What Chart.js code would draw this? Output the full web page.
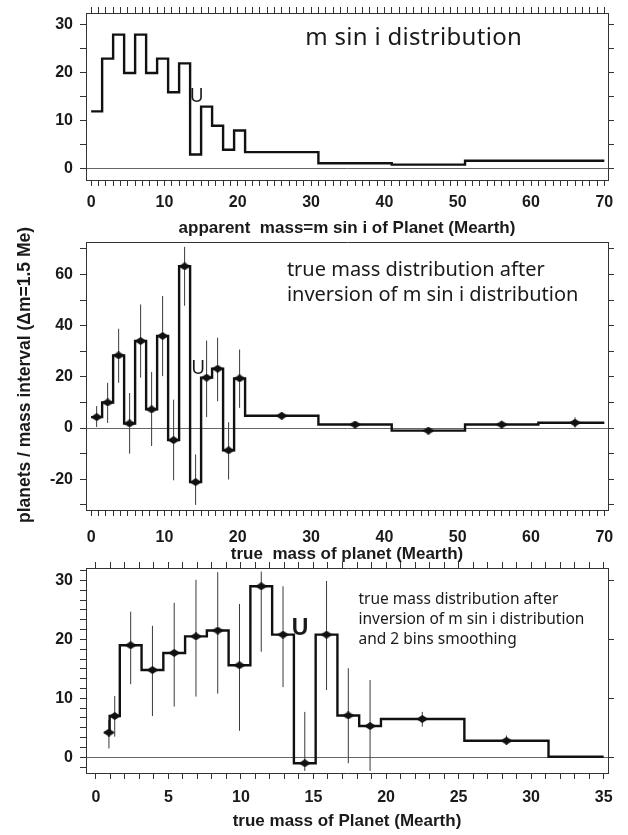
<!DOCTYPE html>
<html>
<head>
<meta charset="utf-8">
<script src="https://cdn.jsdelivr.net/npm/chart.js@4.4.1/dist/chart.umd.min.js"></script>
<style>
html, body { margin: 0; padding: 0; background: #fff; }
#wrap { position: relative; width: 628px; height: 835px; overflow: hidden; }
canvas { position: absolute; left: 0; }
</style>
</head>
<body>
<div id="wrap">
  <canvas id="c1" width="628" height="240" style="top:0px"></canvas>
  <canvas id="c2" width="628" height="352" style="top:214px"></canvas>
  <canvas id="c3" width="628" height="290" style="top:545px"></canvas>
</div>
<script>
// top panel: m sin i histogram (bin edges + count per bin)
const msiniEdges = [0, 1.5, 3, 4.5, 6, 7.5, 9, 10.5, 12, 13.5, 15, 16.5, 18, 19.5, 21, 31, 41, 51, 70];
const msiniCounts = [12, 23, 28, 20, 28, 20, 23, 16, 22, 3, 13, 9, 4, 8, 3.5, 1.2, 0.9, 1.7];

// middle panel: true mass after inversion
const trueEdges = [0, 1.5, 3, 4.5, 6, 7.5, 9, 10.5, 12, 13.5, 15, 16.5, 18, 19.5, 21, 31, 41, 51, 61, 70];
const trueCounts = [4.3, 10, 28.4, 1.8, 34, 7.3, 36, -4.7, 63.2, -21.1, 19.7, 23.2, -8.7, 19.4, 4.8, 1.4, -1.0, 1.4, 2.1];
const trueCentres = [0.75, 2.25, 3.75, 5.25, 6.75, 8.25, 9.75, 11.25, 12.75, 14.25, 15.75, 17.25, 18.75, 20.25, 26, 36, 46, 56, 66];
const trueErrHi = [8.6, 17.7, 38.8, 13.7, 48.3, 21.9, 51.6, 11.1, 70.8, -10.3, 34.2, 35.3, 2.3, 30.7, 6.3, 2.6, 0.4, 3.0, 4.2];
const trueErrLo = [0.4, 2.0, 17.7, -10.0, 19.7, -7.0, 20.3, -20.4, 47.8, -30, 4.3, 10.5, -20.1, 7.9, 3.3, 0.3, -2.3, -0.1, 0.2];

// bottom panel: inversion + 2 bins smoothing
const smoothEdges = [0.6, 0.95, 1.65, 3.15, 4.65, 6.15, 7.65, 9.15, 10.65, 12.15, 13.65, 15.15, 16.65, 18.15, 19.65, 25.4, 31.2, 35];
const smoothCounts = [4.2, 7.0, 19.0, 14.8, 17.7, 20.5, 21.5, 15.6, 29.0, 20.8, -1.0, 20.8, 7.1, 5.3, 6.5, 2.8, 0.1];
const smoothCentres = [0.9, 1.3, 2.4, 3.9, 5.4, 6.9, 8.4, 9.9, 11.4, 12.9, 14.4, 15.9, 17.4, 18.9, 22.5, 28.3];
const smoothErrHi = [6.3, 10.4, 24.7, 22.3, 26.2, 30.1, 31.4, 26.0, 31.5, 29.0, 7.7, 29.9, 15.1, 13.1, 7.7, 3.7];
const smoothErrLo = [1.5, 3.5, 12.4, 7.0, 8.6, 10.3, 10.8, 4.5, 17.9, 11.9, -2.3, 11.4, -1.0, -2.3, 5.2, 2.1];

// tick labels
const wideXLabels = [0, 10, 20, 30, 40, 50, 60, 70];
const narrowXLabels = [0, 5, 10, 15, 20, 25, 30, 35];
const msiniYLabels = [0, 10, 20, 30];
const trueYLabels = [-20, 0, 20, 40, 60];
const smoothYLabels = [0, 10, 20, 30];

Chart.defaults.font.family = 'Liberation Sans';
const INK = '#1a1a1a';
const tickFont = { size: 16, weight: 'bold' };
const titleFont = { size: 17, weight: 'bold' };

function onStep(v, step) {
  return Math.abs(v / step - Math.round(v / step)) < 1e-6;
}
function labelFrom(list) {
  return v => {
    const r = Math.round(v);
    return Math.abs(v - r) < 1e-6 && list.includes(r) ? String(r) : '';
  };
}

// steps: value holds from edge i to edge i+1
function steps(edges, counts) {
  const pts = counts.map((c, i) => ({ x: edges[i], y: c }));
  pts.push({ x: edges[edges.length - 1], y: counts[counts.length - 1] });
  return pts;
}
function errBars(centres, lo, hi) {
  const pts = [];
  centres.forEach((c, i) => { pts.push({ x: c, y: lo[i] }, { x: c, y: hi[i] }, { x: c, y: null }); });
  return pts;
}
function markers(centres, counts) {
  return centres.map((c, i) => ({ x: c, y: counts[i] }));
}

function diamond(w, h) {
  const c = document.createElement('canvas');
  c.width = w; c.height = h;
  const g = c.getContext('2d');
  g.fillStyle = '#111';
  g.beginPath();
  g.moveTo(w / 2, 0); g.lineTo(w, h / 2); g.lineTo(w / 2, h); g.lineTo(0, h / 2);
  g.closePath(); g.fill();
  return c;
}
const diam = diamond(12, 8);

// fixed box sizes so the frames line up with the picture
function fixSize(w, h) {
  return s => {
    if (w !== null) s.width = w;
    if (h !== null) s.height = h;
    s.paddingTop = 0; s.paddingBottom = 0; s.paddingLeft = 0; s.paddingRight = 0;
  };
}
function keepSteps(step) {
  return s => { s.ticks = s.ticks.filter(t => onStep(t.value, step)); };
}

// ---- axes ----
function bottomAxis(min, max, step, labels, title, h, pad, titlePad) {
  return {
    type: 'linear', position: 'bottom', min, max,
    afterFit: fixSize(null, h),
    afterBuildTicks: keepSteps(step),
    grid: { drawOnChartArea: false, tickLength: 6, tickColor: '#333' },
    border: { color: '#333', width: 1 },
    ticks: { stepSize: step, includeBounds: false, autoSkip: false, maxRotation: 0, padding: pad, font: tickFont, color: INK,
      callback: labelFrom(labels) },
    title: { display: true, text: title, font: titleFont, color: INK, padding: { top: 0, bottom: titlePad } }
  };
}
function topAxis(min, max, step, h, showTicks) {
  return {
    type: 'linear', position: 'top', min, max,
    afterFit: fixSize(null, h),
    afterBuildTicks: keepSteps(step),
    grid: { drawOnChartArea: false, drawTicks: showTicks, tickLength: 6, tickColor: '#333' },
    border: { color: '#333', width: 1 },
    ticks: { display: false, includeBounds: false, stepSize: step, autoSkip: false }
  };
}
function leftAxis(min, max, step, labels) {
  return {
    type: 'linear', position: 'left', min, max,
    afterFit: fixSize(86, null),
    afterBuildTicks: keepSteps(step),
    grid: {
      drawOnChartArea: true, tickLength: 6, tickColor: '#333', lineWidth: 1,
      color: c => (c.tick && Math.abs(c.tick.value) < 1e-9) ? '#666' : 'rgba(0,0,0,0)'
    },
    border: { color: '#333', width: 1 },
    ticks: { stepSize: step, includeBounds: false, autoSkip: false, padding: 7, font: tickFont, color: INK, callback: labelFrom(labels) }
  };
}
function rightAxis(min, max, step) {
  return {
    type: 'linear', position: 'right', min, max,
    afterFit: fixSize(20, null),
    afterBuildTicks: keepSteps(step),
    grid: { drawOnChartArea: false, tickLength: 6, tickColor: '#333' },
    border: { color: '#333', width: 1 },
    ticks: { display: false, includeBounds: false, stepSize: step, autoSkip: false }
  };
}

// text notes inside the panels, anchored on data coordinates
const notesPlugin = {
  id: 'notes',
  afterDatasetsDraw(chart, args, opts) {
    const { ctx, scales } = chart;
    (opts.items || []).forEach(n => {
      ctx.save();
      ctx.font = n.font;
      if (n.spacing) ctx.letterSpacing = n.spacing;
      ctx.fillStyle = INK;
      ctx.textAlign = n.align || 'left';
      ctx.textBaseline = 'middle';
      ctx.fillText(n.text, scales.x.getPixelForValue(n.x), scales.y.getPixelForValue(n.y));
      ctx.restore();
    });
  }
};

// shared y title, longer than the middle frame so drawn without squeezing
const sideTitlePlugin = {
  id: 'sideTitle',
  afterDraw(chart, args, opts) {
    if (!opts.text) return;
    const { ctx, chartArea } = chart;
    ctx.save();
    ctx.translate(opts.x, (chartArea.top + chartArea.bottom) / 2 + opts.dy);
    ctx.rotate(-Math.PI / 2);
    ctx.font = opts.font;
    ctx.fillStyle = INK;
    ctx.textAlign = 'center';
    ctx.textBaseline = 'middle';
    ctx.fillText(opts.text, 0, 0);
    ctx.restore();
  }
};

function stepSet(data) {
  return { data, borderColor: '#111', borderWidth: 2.4, stepped: true, pointRadius: 0, fill: false, order: 2 };
}
function errSet(data) {
  return { data, borderColor: '#3a3a3a', borderWidth: 1, pointRadius: 0, fill: false, spanGaps: false, order: 3 };
}
function markSet(data) {
  return { data, showLine: false, pointStyle: diam, pointRadius: 5, order: 1 };
}

function baseOptions(scales, notes, side) {
  return {
    responsive: false, animation: false, devicePixelRatio: 1,
    layout: { padding: 0 },
    plugins: { legend: { display: false }, tooltip: { enabled: false }, notes: { items: notes }, sideTitle: side || {} },
    scales
  };
}

// ---- top panel ----
new Chart(document.getElementById('c1'), {
  type: 'line',
  data: { datasets: [stepSet(steps(msiniEdges, msiniCounts))] },
  plugins: [notesPlugin],
  options: baseOptions({
    x: bottomAxis(-0.7, 70.5, 1, wideXLabels, 'apparent  mass=m sin i of Planet (Mearth)', 60, 7, 1),
    x2: topAxis(-0.7, 70.5, 1, 13, true),
    y: leftAxis(-2.3, 32.5, 5, msiniYLabels),
    y2: rightAxis(-2.3, 32.5, 5)
  }, [
    { text: 'm sin i distribution', x: 29.2, y: 27.3, font: '24px "Noto Sans"', spacing: '0.3px' },
    { text: 'U', x: 14.4, y: 15, font: '19px "Noto Sans"', align: 'center' }
  ])
});

// ---- middle panel ----
new Chart(document.getElementById('c2'), {
  type: 'line',
  data: { datasets: [
    errSet(errBars(trueCentres, trueErrLo, trueErrHi)),
    stepSet(steps(trueEdges, trueCounts)),
    markSet(markers(trueCentres, trueCounts))
  ] },
  plugins: [notesPlugin, sideTitlePlugin],
  options: baseOptions({
    x: bottomAxis(-0.7, 70.5, 1, wideXLabels, 'true  mass of planet (Mearth)', 56, 12, 1),
    x2: topAxis(-0.7, 70.5, 1, 28, false),
    y: leftAxis(-32, 72.7, 10, trueYLabels),
    y2: rightAxis(-32, 72.7, 10)
  }, [
    { text: 'true mass distribution after', x: 26.7, y: 61.7, font: '20px "Noto Sans"' },
    { text: 'inversion of m sin i distribution', x: 26.7, y: 52, font: '20px "Noto Sans"' },
    { text: 'U', x: 14.6, y: 23.4, font: '19px "Noto Sans"', align: 'center' }
  ], { text: 'planets / mass interval (\u0394m=1.5 Me)', x: 25, dy: -1, font: 'bold 17.5px "Liberation Sans"' })
});

// ---- bottom panel ----
new Chart(document.getElementById('c3'), {
  type: 'line',
  data: { datasets: [
    errSet(errBars(smoothCentres, smoothErrLo, smoothErrHi)),
    stepSet(steps(smoothEdges, smoothCounts)),
    markSet(markers(smoothCentres, smoothCounts))
  ] },
  plugins: [notesPlugin],
  options: baseOptions({
    x: bottomAxis(-0.68, 35.3, 1, narrowXLabels, 'true mass of Planet (Mearth)', 62, 9, 3),
    x2: topAxis(-0.68, 35.3, 1, 23, true),
    y: leftAxis(-2.66, 32.1, 5 / 3, smoothYLabels),
    y2: rightAxis(-2.66, 32.1, 10)
  }, [
    { text: 'true mass distribution after', x: 18.1, y: 26.7, font: '15.5px "Noto Sans"' },
    { text: 'inversion of m sin i distribution', x: 18.1, y: 23.4, font: '15.5px "Noto Sans"' },
    { text: 'and 2 bins smoothing', x: 18.1, y: 20.0, font: '15.5px "Noto Sans"' },
    { text: 'U', x: 14.07, y: 21.8, font: 'bold 23px "Liberation Sans"', align: 'center' }
  ])
});
</script>
</body>
</html>
